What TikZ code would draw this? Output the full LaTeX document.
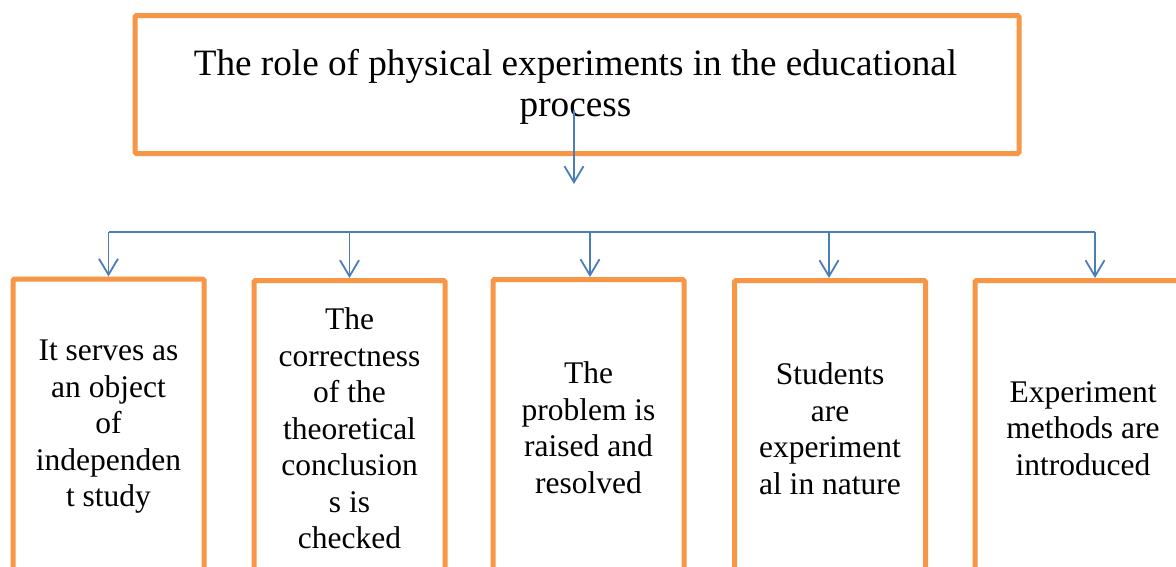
\documentclass[tikz,border=0pt]{standalone}
\usepackage{fontspec}
\setmainfont{Liberation Serif}
\usetikzlibrary{arrows.meta}
\definecolor{boxorange}{HTML}{F79646}
\definecolor{linkblue}{HTML}{4A7EBB}
\tikzset{
  topbox/.style={draw=boxorange, line width=5pt, rounded corners=1.5pt, minimum width=884pt, minimum height=138pt, inner sep=0pt},
  toptext/.style={align=center, font=\fontsize{37.2}{41}\selectfont, inner sep=0pt},
  itembox/.style={draw=boxorange, line width=5pt, rounded corners=1.5pt, minimum width=191pt, minimum height=296pt, inner sep=0pt, align=center, font=\fontsize{31.5}{36.5}\selectfont},
  link/.style={draw=linkblue, line width=1.8pt},
  arr/.style={link, -{Straight Barb[length=16pt,width=19pt,line width=1.8pt]}}
}
\begin{document}
\begin{tikzpicture}[x=1pt,y=-1pt]
\useasboundingbox (0,0) rectangle (1176,566);
\clip (0,0) rectangle (1176,566);
\fill[white] (0,0) rectangle (1176,566);
% top box
\node[topbox] (top) at (577,84.5) {};
\node[toptext] (toptxt) at (575.5,87) {The role of physical experiments in the educational\\process};
% bottom boxes
\node[itembox] (b1) at (108.5,427) {It serves as\\an object\\of\\independen\\t study};
\node[itembox] (b2) at (349.5,428.5) {The\\correctness\\of the\\theoretical\\conclusion\\s is\\checked};
\node[itembox] (b3) at (588.5,427.5) {The\\problem is\\raised and\\resolved};
\node[itembox] (b4) at (830,428.5) {Students\\are\\experiment\\al in nature};
\node[itembox, minimum width=216pt] (b5) at (1083,428.5) {Experiment\\methods are\\introduced};
% connectors
\coordinate (src) at (574,110);
\coordinate (srcend) at (574,184);
\draw[arr] (src) -- (srcend);
\coordinate (c1) at (108.5,232);
\coordinate (c2) at (349.5,232);
\coordinate (c3) at (590,232);
\coordinate (c4) at (829,232);
\coordinate (c5) at (1095,232);
\draw[link] (c1) -- (c5);
\draw[arr] (c1) -- (c1 |- b1.north);
\draw[arr] (c2) -- (c2 |- b2.north);
\draw[arr] (c3) -- (c3 |- b3.north);
\draw[arr] (c4) -- (c4 |- b4.north);
\draw[arr] (c5) -- (c5 |- b5.north);
\end{tikzpicture}
\end{document}
